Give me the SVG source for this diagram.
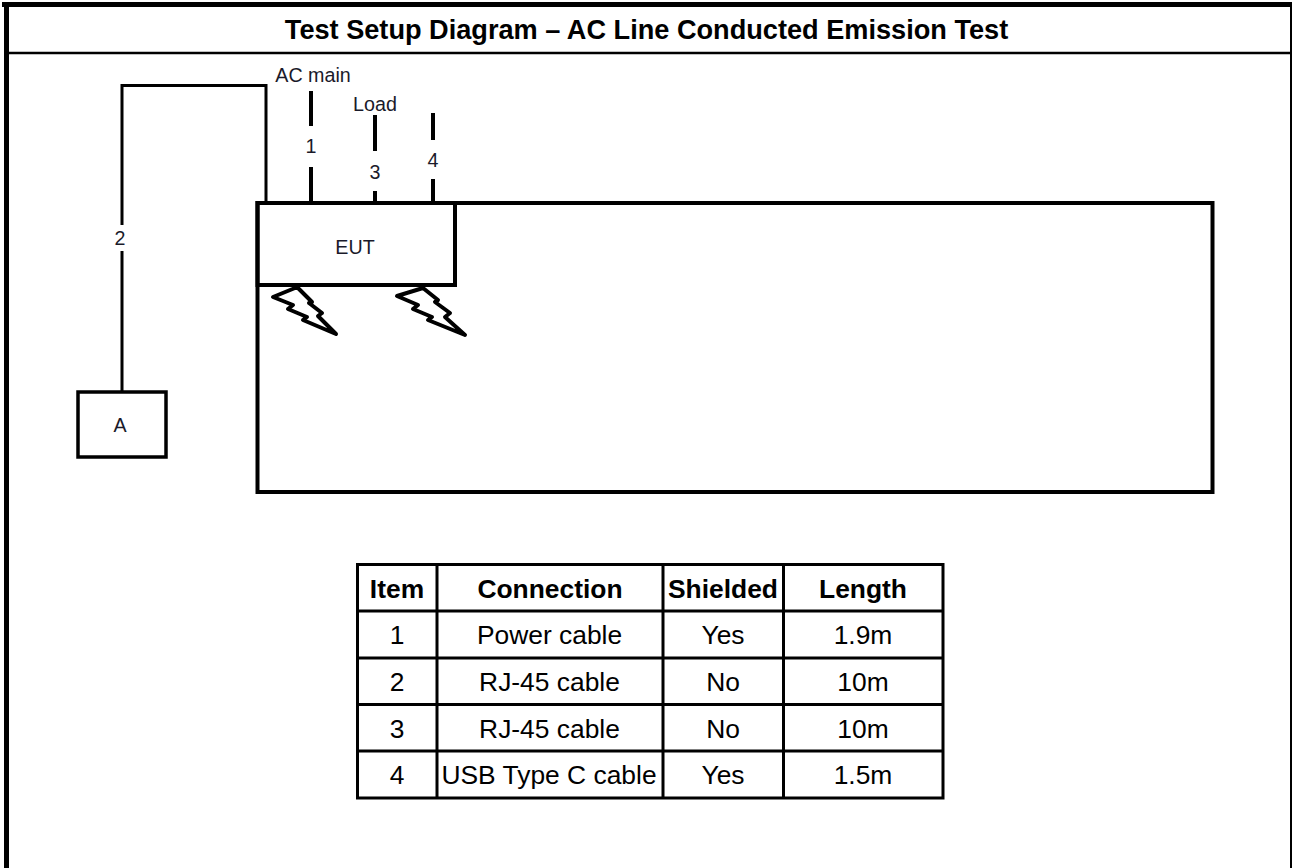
<svg xmlns="http://www.w3.org/2000/svg" width="1292" height="868" viewBox="0 0 1292 868">
<style>
text{font-family:"Liberation Sans",Arial,sans-serif;fill:#000}
.t{font-size:26.400px;text-anchor:middle}
.b{font-weight:bold}
.s{font-size:19.700px;text-anchor:middle;fill:#1a1a2a}
.l{fill:none;stroke:#000;stroke-linejoin:miter}
.bolt{fill:#fff;stroke:#000;stroke-width:4;stroke-linejoin:round}
</style>
<rect width="1292" height="868" fill="#fff"/>
<g id="frame">
<path class="l" stroke-width="5" d="M2 4.500H1292"/>
<path class="l" stroke-width="5" d="M6.500 2V868"/>
<path class="l" stroke-width="2" d="M1291 2V868"/>
<path class="l" stroke-width="2.500" d="M5 53H1292"/>
<text class="t b" x="646.500" y="39" style="font-size:27.150px">Test Setup Diagram – AC Line Conducted Emission Test</text>
</g>
<g id="connectors">
<path class="l" stroke-width="3" d="M266 201V85.500H122V225M122 251V392"/>
<path class="l" stroke-width="4" d="M311 91V126M311 167V202M375 115V151M375 191V202M433 113V140M433 179V202"/>
<text class="s" x="120" y="245">2</text>
<text class="s" x="311" y="153">1</text>
<text class="s" x="375" y="179">3</text>
<text class="s" x="433" y="167">4</text>
</g>
<g id="bench"><rect class="l" stroke-width="4" x="257.500" y="203" width="955" height="289"/></g>
<g id="eut"><rect class="l" stroke-width="4" x="257.500" y="203" width="197.500" height="82"/><text class="s" x="355" y="254">EUT</text></g>
<g id="bolts">
<polygon class="bolt" points="298,288 312,302 309,303 322,313 318,316 336,334 303,320 307,317 288,309 293,305 273,297 295,288"/>
<polygon class="bolt" points="423,288 438,300 435,302 450,313 445,317 465,335 428,320 432,317 413,309 418,305 397,296"/>
</g>
<g id="a"><rect class="l" stroke-width="3.500" x="78" y="392" width="88" height="65"/><text class="s" x="120" y="432">A</text></g>
<g id="labels"><text class="s" x="313" y="82">AC main</text><text class="s" x="375" y="111">Load</text></g>
<g id="table">
<path class="l" stroke-width="3" d="M357.500 564.500H943V798H357.500ZM437 564V798M663 564V798M783.500 564V798M357 611H943M357 658H943M357 704.500H943M357 751H943"/>
<text class="t b" x="397" y="598">Item</text><text class="t b" x="550" y="598">Connection</text><text class="t b" x="723" y="598">Shielded</text><text class="t b" x="863" y="598">Length</text>
<text class="t" x="397" y="644">1</text><text class="t" x="549.500" y="644">Power cable</text><text class="t" x="723" y="644">Yes</text><text class="t" x="863" y="644">1.9m</text>
<text class="t" x="397" y="691">2</text><text class="t" x="549.500" y="691">RJ-45 cable</text><text class="t" x="723" y="691">No</text><text class="t" x="863" y="691">10m</text>
<text class="t" x="397" y="738">3</text><text class="t" x="549.500" y="738">RJ-45 cable</text><text class="t" x="723" y="738">No</text><text class="t" x="863" y="738">10m</text>
<text class="t" x="397" y="784">4</text><text class="t" x="549" y="784">USB Type C cable</text><text class="t" x="723" y="784">Yes</text><text class="t" x="863" y="784">1.5m</text>
</g>
</svg>
